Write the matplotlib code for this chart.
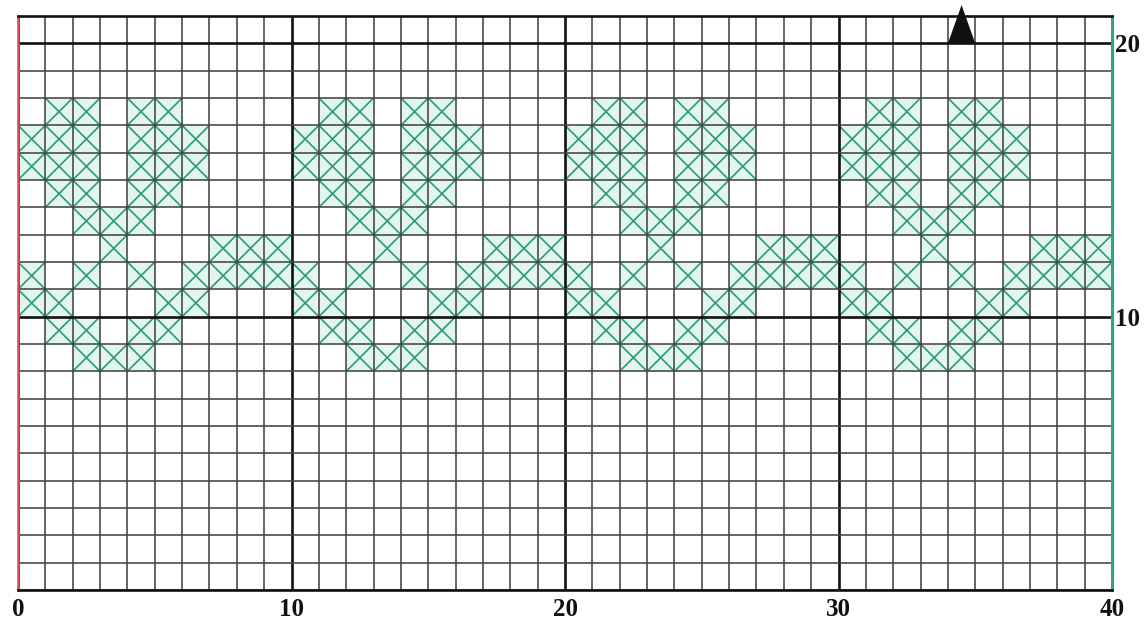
import matplotlib.pyplot as plt
from matplotlib.patches import Rectangle, Polygon
from matplotlib.collections import PatchCollection, LineCollection

# chart size in stitches
N_COLS = 40
N_ROWS = 21

# stitched rows (row index = lower y of the cell)
pattern_rows = {
    17: ".XX.XX....|.XX.XX....|.XX.XX....|.XX.XX....",
    16: "XXX.XXX...|XXX.XXX...|XXX.XXX...|XXX.XXX...",
    15: "XXX.XXX...|XXX.XXX...|XXX.XXX...|XXX.XXX...",
    14: ".XX.XX....|.XX.XX....|.XX.XX....|.XX.XX....",
    13: "..XXX.....|..XXX.....|..XXX.....|..XXX.....",
    12: "...X...XXX|...X...XXX|...X...XXX|...X...XXX",
    11: "X.X.X.XXXX|X.X.X.XXXX|X.X.X.XXXX|X.X.X.XXXX",
    10: "XX...XX...|XX...XX...|XX...XX...|XX...XX...",
    9:  ".XX.XX....|.XX.XX....|.XX.XX....|.XX.XX....",
    8:  "..XXX.....|..XXX.....|..XXX.....|..XXX.....",
}

x_ticks = [0, 10, 20, 30, 40]
x_labels = ["0", "10", "20", "30", "40"]
y_ticks = [10, 20]
y_labels = ["10", "20"]

# centre marker (black arrow) column and row
arrow_col = 34
arrow_row = 20

STITCH = "#2a9a77"
STITCH_FILL = "#e2f5ef"


def stitched_cells():
    cells = []
    for row, line in pattern_rows.items():
        for col, ch in enumerate(line.replace("|", "")):
            if ch == "X":
                cells.append((col, row))
    return cells


def main():
    fig = plt.figure(figsize=(11.46, 6.21), dpi=100)
    ax = fig.add_axes([18 / 1146, 31 / 621, 1094 / 1146, 574 / 621])
    ax.set_xlim(0, N_COLS)
    ax.set_ylim(0, N_ROWS)

    cells = stitched_cells()
    fills = PatchCollection([Rectangle((c, r), 1, 1) for c, r in cells],
                            facecolor=STITCH_FILL, edgecolor="none", zorder=1)
    ax.add_collection(fills)
    segs = []
    for c, r in cells:
        segs.append([(c, r), (c + 1, r + 1)])
        segs.append([(c, r + 1), (c + 1, r)])
    ax.add_collection(LineCollection(segs, colors=STITCH, linewidths=1.2, zorder=2))

    # grid: every stitch, heavy every 10
    ax.set_xticks(x_ticks)
    ax.set_xticklabels(x_labels)
    ax.set_xticks(range(0, N_COLS + 1), minor=True)
    ax.set_yticks(y_ticks)
    ax.set_yticklabels(y_labels)
    ax.set_yticks(range(0, N_ROWS + 1), minor=True)
    ax.grid(which="minor", color="#444444", linewidth=1.15, zorder=3)
    ax.grid(which="major", color="#111111", linewidth=1.9, zorder=3)
    ax.set_axisbelow(False)

    ax.yaxis.tick_right()
    ax.tick_params(which="both", length=0)
    ax.tick_params(axis="x", pad=6)
    ax.tick_params(axis="y", pad=2)
    for lab in ax.get_xticklabels() + ax.get_yticklabels():
        lab.set_fontfamily("Liberation Serif")
        lab.set_fontweight("bold")
        lab.set_fontsize(18)
        lab.set_color("#111111")

    for side in ("top", "bottom"):
        ax.spines[side].set_color("#111111")
        ax.spines[side].set_linewidth(1.9)
    ax.spines["left"].set_color("#d9465e")
    ax.spines["left"].set_linewidth(1.8)
    ax.spines["right"].set_color("#2ea67f")
    ax.spines["right"].set_linewidth(2.2)
    for sp in ax.spines.values():
        sp.set_zorder(4)

    tri = Polygon([(arrow_col, arrow_row), (arrow_col + 1, arrow_row),
                   (arrow_col + 0.5, arrow_row + 1.4)],
                  closed=True, facecolor="#111111", edgecolor="none",
                  clip_on=False, zorder=5)
    ax.add_patch(tri)

    fig.savefig("out.png", dpi=100)
    plt.close(fig)


if __name__ == "__main__":
    main()
